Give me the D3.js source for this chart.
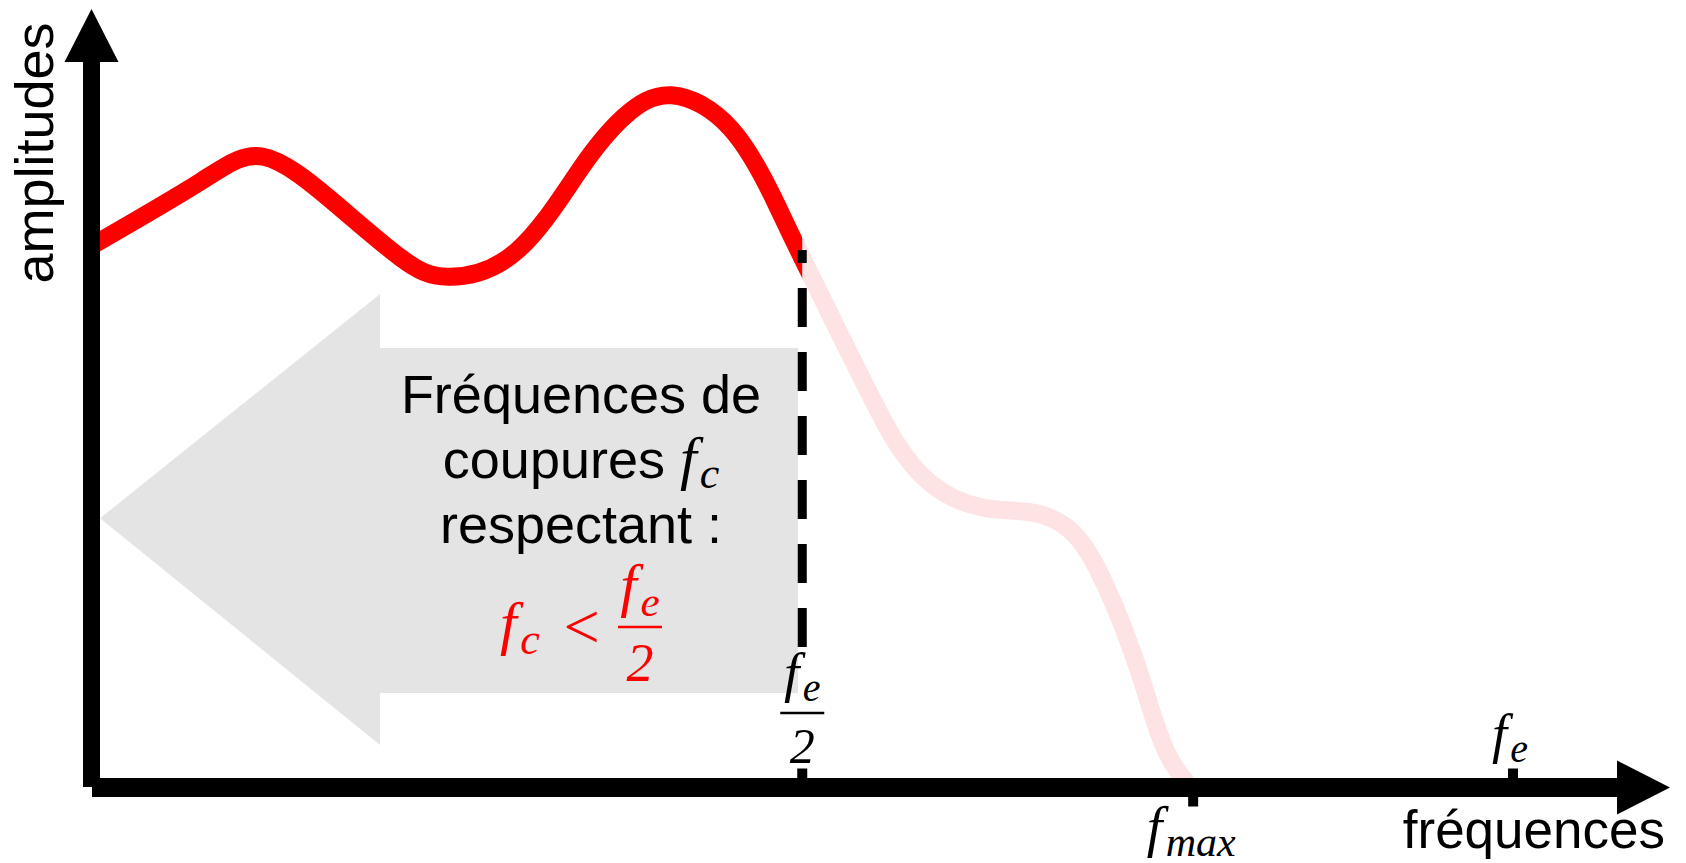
<!DOCTYPE html>
<html>
<head>
<meta charset="utf-8">
<script src="https://cdn.jsdelivr.net/npm/d3@7"></script>
<style>
  body { margin: 0; background: #fff; }
  svg { display: block; }
  .sans { font-family: "Liberation Sans", Arial, sans-serif; }
  .math { font-family: "Liberation Serif", "Times New Roman", serif; font-style: italic; }
</style>
</head>
<body>
<div id="vis"></div>
<script>

var freqs = [0, 0.076, 0.121, 0.170, 0.217, 0.251, 0.299, 0.344, 0.375, 0.408, 0.450, 0.480,
             0.500, 0.541, 0.565, 0.590, 0.625, 0.660, 0.686, 0.707, 0.731, 0.747, 0.759, 0.773];
var amps  = [7.22, 8.07, 8.41, 7.81, 7.07, 6.81, 7.15, 8.25, 8.95, 9.23, 8.78, 7.85,
             7.06, 5.49, 4.63, 4.06, 3.74, 3.67, 3.47, 2.94, 1.87, 0.94, 0.37, 0];

var cutoff = 0.5;          // f_e / 2
var tickFreqs = [0.5, 0.775, 1];
var tickSides = ['up', 'down', 'up'];
var textLines = ['Fréquences de', 'coupures ', 'respectant :'];

var width = 1686;
var height = 863;

var x = d3.scaleLinear().domain([0, 1]).range([91.5, 1513]);
var y = d3.scaleLinear().domain([0, 10]).range([787.5, 37.5]);

var data = freqs.map(function (f, i) { return { f: f, a: amps[i] }; });

var svg = d3.select('#vis').append('svg')
    .attr('width', width)
    .attr('height', height)
    .attr('viewBox', '0 0 ' + width + ' ' + height);

var defs = svg.append('defs');
defs.append('clipPath').attr('id', 'clipLow')
  .append('rect').attr('x', 0).attr('y', 0).attr('width', x(cutoff)).attr('height', height);
defs.append('clipPath').attr('id', 'clipHigh')
  .append('rect').attr('x', x(cutoff)).attr('y', 0).attr('width', width - x(cutoff)).attr('height', height);

// grey arrow (pointing to the low frequencies)
var arrowPts = [
  [0.006, 3.59], [0.203, 6.58], [0.203, 5.86], [0.497, 5.86],
  [0.497, 1.26], [0.203, 1.26], [0.203, 0.567]
];
svg.append('polygon')
    .attr('points', arrowPts.map(function (p) { return x(p[0]) + ',' + y(p[1]); }).join(' '))
    .attr('fill', '#e4e4e4');

// curve
var line = d3.line()
    .x(function (d) { return x(d.f); })
    .y(function (d) { return y(d.a); })
    .curve(d3.curveNatural);

svg.append('path').datum(data)
    .attr('d', line)
    .attr('fill', 'none')
    .attr('stroke', '#fde3e3')
    .attr('stroke-width', 18)
    .attr('clip-path', 'url(#clipHigh)');

svg.append('path').datum(data)
    .attr('d', line)
    .attr('fill', 'none')
    .attr('stroke', '#ff0000')
    .attr('stroke-width', 18)
    .attr('clip-path', 'url(#clipLow)');

// dashed cut line at f_e/2
svg.append('line')
    .attr('x1', x(cutoff)).attr('x2', x(cutoff))
    .attr('y1', 250).attr('y2', 647)
    .attr('stroke', '#000')
    .attr('stroke-width', 9)
    .attr('stroke-dasharray', '39,25')
    .attr('stroke-dashoffset', 26);

// axes
svg.append('line')
    .attr('x1', x(0)).attr('x2', x(0))
    .attr('y1', 58).attr('y2', 787)
    .attr('stroke', '#000').attr('stroke-width', 17);
svg.append('line')
    .attr('x1', 92).attr('x2', 1620)
    .attr('y1', y(0)).attr('y2', y(0))
    .attr('stroke', '#000').attr('stroke-width', 19);
svg.append('polygon')
    .attr('points', [[x(0) - 27, 62], [x(0) + 27, 62], [x(0), 9]].join(' '))
    .attr('fill', '#000');
svg.append('polygon')
    .attr('points', [[1617, y(0) - 27], [1617, y(0) + 27], [1670, y(0)]].join(' '))
    .attr('fill', '#000');

// ticks
svg.selectAll('.tick').data(tickFreqs)
  .enter().append('rect')
    .attr('class', 'tick')
    .attr('x', function (d) { return x(d) - 5; })
    .attr('y', function (d, i) { return tickSides[i] === 'up' ? y(0) - 19 : y(0) + 5; })
    .attr('width', 10)
    .attr('height', 14)
    .attr('fill', '#000');

// axis titles
svg.append('text')
    .attr('class', 'sans')
    .attr('transform', 'translate(53,153) rotate(-90)')
    .attr('text-anchor', 'middle')
    .attr('font-size', 54)
    .text('amplitudes');

svg.append('text')
    .attr('class', 'sans')
    .attr('x', 1665).attr('y', 848)
    .attr('text-anchor', 'end')
    .attr('font-size', 53)
    .text('fréquences');

// math helpers
function fWithSub(g, cx, baseY, sub, size, subSize, color, anchor) {
  var t = g.append('text')
      .attr('class', 'math')
      .attr('x', cx).attr('y', baseY)
      .attr('text-anchor', anchor || 'middle')
      .attr('font-size', size)
      .attr('fill', color);
  t.append('tspan').text('f');
  t.append('tspan').attr('font-size', subSize).attr('dx', size * 0.06).attr('dy', size * 0.18).text(sub);
  return t;
}

function fraction(g, cx, barY, size, color) {
  fWithSub(g, cx, barY - 22, 'e', size * 1.1, size * 0.8, color);
  g.append('line')
      .attr('x1', cx - 22).attr('x2', cx + 22)
      .attr('y1', barY).attr('y2', barY)
      .attr('stroke', color).attr('stroke-width', 2.5);
  g.append('text')
      .attr('class', 'math')
      .attr('x', cx).attr('y', barY + size * 1.0)
      .attr('text-anchor', 'middle')
      .attr('font-style', 'normal')
      .attr('font-size', size)
      .attr('fill', color)
      .text('2');
}

// tick labels
var labels = svg.append('g');
fraction(labels, x(tickFreqs[0]), 713, 50, '#000');
fWithSub(labels, x(tickFreqs[1]) - 2, 846, 'max', 56, 42, '#000');
fWithSub(labels, x(tickFreqs[2]) - 3, 752, 'e', 54, 40, '#000');

// text inside the grey arrow
var box = svg.append('g');
var cx = 581;
box.append('text').attr('class', 'sans')
    .attr('x', cx).attr('y', 413)
    .attr('text-anchor', 'middle').attr('font-size', 54)
    .text(textLines[0]);

var l2 = box.append('text').attr('class', 'sans')
    .attr('x', cx).attr('y', 478)
    .attr('text-anchor', 'middle').attr('font-size', 54);
l2.append('tspan').text(textLines[1]);
l2.append('tspan').attr('class', 'math').attr('font-size', 60).text('f');
l2.append('tspan').attr('class', 'math').attr('font-size', 44).attr('dx', 3).attr('dy', 10).text('c');

box.append('text').attr('class', 'sans')
    .attr('x', cx).attr('y', 543)
    .attr('text-anchor', 'middle').attr('font-size', 54)
    .text(textLines[2]);

// red condition  f_c < f_e / 2
fWithSub(box, 500, 643, 'c', 60, 44, '#ff0000', 'start');
box.append('text')
    .attr('class', 'math')
    .attr('x', 581).attr('y', 648)
    .attr('text-anchor', 'middle')
    .attr('font-style', 'normal')
    .attr('font-size', 64)
    .attr('fill', '#ff0000')
    .text('<');
fraction(box, 640, 627, 54, '#ff0000');

</script>
</body>
</html>
